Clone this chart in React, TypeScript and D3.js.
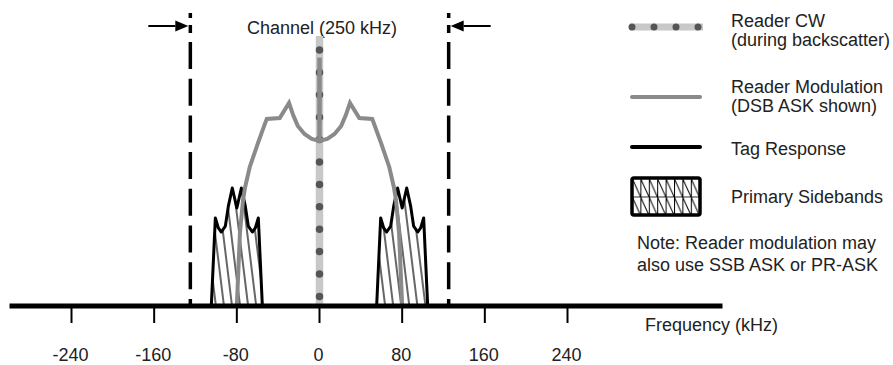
import React from 'react';
import * as d3 from 'd3';

// Frequency axis ticks (kHz)
const tickValues = [-240, -160, -80, 0, 80, 160, 240];
// Channel edges (kHz), 250 kHz channel
const channelEdges = [-125, 125];
// Reader modulation, left half (kHz / relative level), mirrored for the right half
const modFreqLeft = [-80, -77, -74, -72, -67.5, -59.5, -52.5, -51, -38.5, -29.5, -25.5, -21, -14.5, -7.5, 0];
const modLevelLeft = [0, 27, 39.3, 44, 51.5, 60.4, 67.8, 69.3, 69.6, 75.2, 70.7, 66.7, 63.7, 61.9, 61.1];
const modCarrierLevel = 92;
// Reader CW
const cwFreq = 0;
const cwLevel = 100;
// Tag response sidebands (offset from sideband centre, kHz)
const sidebandCenters = [-80, 80];
const tagOffsetsLeft = [-24.7, -20.8, -17.9, -15, -11.1, -8.2, -4.4, 0];
const tagLevelsLeft = [0, 32.6, 28.9, 27.4, 29.6, 37, 43.7, 36.3];

const legendItems = [
  { kind: 'cw', lines: ['Reader CW', '(during backscatter)'] },
  { kind: 'mod', lines: ['Reader Modulation', '(DSB ASK shown)'] },
  { kind: 'tag', lines: ['Tag Response'] },
  { kind: 'band', lines: ['Primary Sidebands'] },
];
const noteLines = ['Note: Reader modulation may', 'also use SSB ASK or PR-ASK'];

const W = 893;
const H = 365;
const FONT = '"Liberation Sans", Arial, sans-serif';
const TEXT = '#222';
const CW_BAND = '#c8c8c8';
const CW_DOT = '#555';
const MOD = '#8a8a8a';

export default function App() {
  const x = d3.scaleLinear().domain([-300, 390]).range([9.5, 722.5]);
  const y = d3.scaleLinear().domain([0, 100]).range([306, 36]);

  const line = d3
    .line<[number, number]>()
    .x(d => x(d[0]))
    .y(d => y(d[1]));

  const mirror = (fs: number[], ls: number[]): [number, number][] => [
    ...fs.map((f, i) => [f, ls[i]] as [number, number]),
    ...fs
      .slice(0, -1)
      .map((f, i) => [-f, ls[i]] as [number, number])
      .reverse(),
  ];

  const modPts = mirror(modFreqLeft, modLevelLeft);
  const tagShape = mirror(tagOffsetsLeft, tagLevelsLeft);

  const bands = sidebandCenters.map(c =>
    line(tagShape.map(p => [c + p[0], p[1]] as [number, number])) as string
  );

  const axisY = y(0);
  const arrowY = 26;
  const legendX = 630;
  const legendTextX = 731;

  return (
    <svg
      width={W}
      height={H}
      style={{ position: 'absolute', left: 0, top: 0, background: '#fff' }}
      fontFamily={FONT}
    >
      <defs>
        <pattern
          id="hatch"
          patternUnits="userSpaceOnUse"
          width={8}
          height={12}
          patternTransform="rotate(-7)"
        >
          <line x1={1} y1={-2} x2={1} y2={14} stroke="#000" strokeWidth={1.2} />
        </pattern>
        <pattern id="legendHatch" patternUnits="userSpaceOnUse" x={632} y={178} width={8.4} height={18.5}>
          <line x1={0.5} y1={0} x2={0.5} y2={18.5} stroke="#000" strokeWidth={1} />
          <line x1={0} y1={0.5} x2={8.4} y2={0.5} stroke="#000" strokeWidth={0.8} />
          <line x1={0} y1={0} x2={8.4} y2={18.5} stroke="#000" strokeWidth={1} />
        </pattern>
      </defs>

      {/* Channel edges */}
      {channelEdges.map(c => (
        <g key={c}>
          <line x1={x(c)} x2={x(c)} y1={13} y2={33} stroke="#000" strokeWidth={3.5} strokeDasharray="5 7 8 20" />
          <line
            x1={x(c)}
            x2={x(c)}
            y1={42}
            y2={axisY}
            stroke="#000"
            strokeWidth={3.5}
            strokeDasharray="27 9.7"
          />
        </g>
      ))}
      {/* Arrows */}
      {channelEdges.map(c => {
        const dir = c < 0 ? 1 : -1;
        const tip = x(c) + (c < 0 ? -2 : 2);
        const tail = tip - dir * 40;
        const head = tip - dir * 13;
        return (
          <g key={'a' + c}>
            <line x1={tail} x2={head} y1={arrowY} y2={arrowY} stroke="#000" strokeWidth={2} />
            <path d={`M${tip},${arrowY}L${head},${arrowY - 5.5}L${head},${arrowY + 5.5}Z`} fill="#000" />
          </g>
        );
      })}
      <text x={322} y={34} textAnchor="middle" fontSize={18} fill={TEXT}>
        Channel (250 kHz)
      </text>

      {/* Primary sidebands / tag response */}
      {bands.map((d, i) => (
        <g key={'b' + i}>
          <path d={d} fill="url(#hatch)" stroke="none" />
          <path d={d} fill="none" stroke="#000" strokeWidth={3} strokeLinejoin="round" />
        </g>
      ))}

      {/* Reader CW */}
      <line x1={x(cwFreq)} x2={x(cwFreq)} y1={y(cwLevel)} y2={axisY} stroke={CW_BAND} strokeWidth={7.5} />
      <line
        x1={x(cwFreq)}
        x2={x(cwFreq)}
        y1={50}
        y2={axisY}
        stroke={CW_DOT}
        strokeWidth={7.5}
        strokeLinecap="round"
        strokeDasharray="0 22.4"
      />

      {/* Reader modulation */}
      <path d={line(modPts) as string} fill="none" stroke={MOD} strokeWidth={4} strokeLinejoin="miter" />
      <line
        x1={x(0)}
        x2={x(0)}
        y1={y(modLevelLeft[modLevelLeft.length - 1])}
        y2={y(modCarrierLevel)}
        stroke={MOD}
        strokeWidth={4.5}
      />

      {/* Frequency axis */}
      <line x1={x(-300)} x2={x(390)} y1={axisY} y2={axisY} stroke="#000" strokeWidth={5} />
      {tickValues.map(t => (
        <g key={t}>
          <line x1={x(t)} x2={x(t)} y1={axisY} y2={axisY + 17} stroke="#000" strokeWidth={2} />
          <text x={x(t) - 1} y={361} textAnchor="middle" fontSize={18} fill={TEXT}>
            {t}
          </text>
        </g>
      ))}
      <text x={645} y={331} fontSize={18} fill={TEXT}>
        Frequency (kHz)
      </text>

      {/* Legend */}
      {legendItems.map((item, i) => {
        const textY = [27, 93, 155, 203][i];
        const symY = [27, 97, 147, 196][i];
        return (
          <g key={item.kind}>
            {item.kind === 'cw' && (
              <g>
                <line x1={legendX} x2={legendX + 73} y1={symY} y2={symY} stroke={CW_BAND} strokeWidth={7} />
                <line
                  x1={legendX + 2}
                  x2={legendX + 70}
                  y1={symY}
                  y2={symY}
                  stroke={CW_DOT}
                  strokeWidth={7}
                  strokeLinecap="round"
                  strokeDasharray="0 22"
                />
              </g>
            )}
            {item.kind === 'mod' && (
              <line x1={legendX + 2} x2={legendX + 70} y1={symY} y2={symY} stroke={MOD} strokeWidth={4} strokeLinecap="round" />
            )}
            {item.kind === 'tag' && (
              <line x1={legendX + 2} x2={legendX + 70} y1={symY} y2={symY} stroke="#000" strokeWidth={4} strokeLinecap="round" />
            )}
            {item.kind === 'band' && (
              <rect
                x={632}
                y={178}
                width={68}
                height={37}
                rx={2}
                fill="url(#legendHatch)"
                stroke="#000"
                strokeWidth={3.5}
              />
            )}
            {item.lines.map((l, j) => (
              <text key={j} x={legendTextX} y={textY + j * 19} fontSize={18} fill={TEXT}>
                {l}
              </text>
            ))}
          </g>
        );
      })}
      {noteLines.map((l, j) => (
        <text key={j} x={637} y={249 + j * 22} fontSize={18} fill={TEXT}>
          {l}
        </text>
      ))}
    </svg>
  );
}
